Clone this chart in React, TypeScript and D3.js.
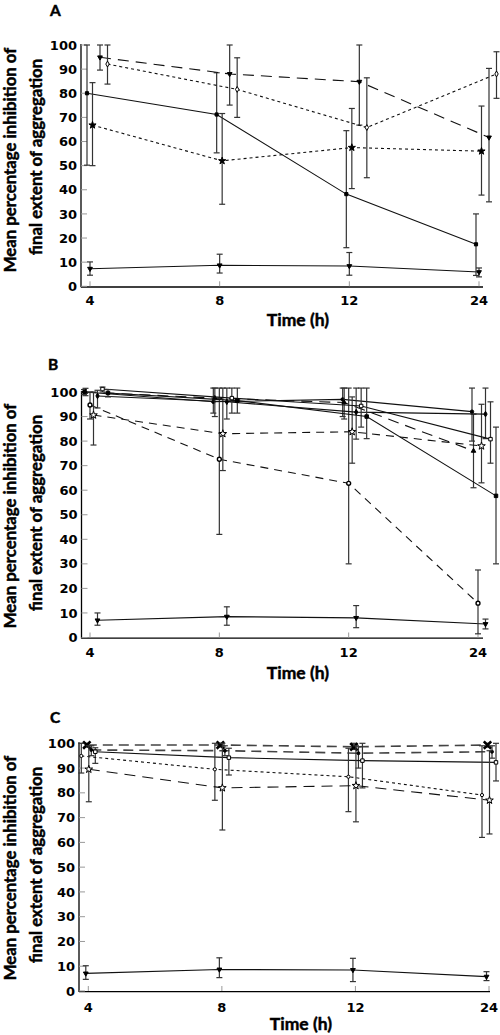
import React from 'react';
import * as d3 from 'd3';

// ---------- data ----------
const timeLabels = ['4', '8', '12', '24'];
const yTicks = [0, 10, 20, 30, 40, 50, 60, 70, 80, 90, 100];

// each entry: [mean, lower error, upper error]
// Panel A
const aSquare = [[80, 50.2, 100], [71.2, 55.3, 88.5], [38.2, 16, 64.5], [17.4, 4.5, 30]];
const aStar = [[66.8, 50, 84.4], [52, 34, 71.6], [57.5, 40.5, 73.7], [56, 37.8, 74.7]];
const aTriangle = [[94.9, 89.6, 100], [88, 75.1, 100], [84.8, 66.8, 100], [61.7, 35, 90.3]];
const aDiamond = [[92.1, 83.8, 100], [81.6, 70, 94.7], [65.8, 45, 86.4], [88, 77.9, 97.2]];
const aControl = [[7.3, 4.6, 10.1], [8.7, 5.5, 13.3], [8.4, 4.6, 14], [5.9, 3.9, 7.6]];

// Panel B
const bCircleSolid = [[100, 99, 101], [96, 91.4, 101.6], [97, 90, 101.6], [92, 80, 101.6]];
const bTriangleDashed = [[100, 98.5, 101.5], [97.5, 90, 101.6], [95.7, 89, 101.6], [76, 61, 91]];
const bCircleDashed = [[94.7, 89, 100], [72.6, 42, 101.6], [62.8, 30, 101.6], [14, 1.5, 27.5]];
const bStarDashed = [[90.6, 78.4, 100], [83, 68, 101.6], [83.8, 71, 98], [78, 63, 95]];
const bDiamondSolid = [[98.4, 93.5, 100.7], [96, 89, 101.6], [91.8, 80.8, 101.6], [91, 81, 101.6]];
const bOpenSquare = [[101.2, 100, 102], [97.5, 91.4, 101.6], [94.3, 85.7, 101.6], [80.8, 71, 96]];
const bFilledSquare = [[99.6, 98, 101], [96.5, 91.4, 101.6], [90, 81, 101.6], [57.7, 30, 85.7]];
const bControl = [[7, 5, 10], [8.5, 5, 12.5], [8, 4, 13], [5.5, 3.5, 7.5]];

// Panel C
const cCross = [[99.3, 98.5, 100], [99.3, 98.5, 100], [98.6, 97.5, 100], [99.3, 98.5, 100]];
const cDashedUpper = [[97.3, 95, 99], [97, 95, 99], [96, 90, 98.6], [96.6, 94, 99]];
const cSquare = [[96.6, 91.9, 98.2], [94.2, 87.2, 98], [93, 82, 100], [92.3, 84.8, 100]];
const cDotted = [[94.9, 88, 100], [89.5, 77, 100], [86.5, 72.4, 98], [79.1, 62, 99]];
const cStar = [[89.5, 76.4, 99], [82, 65, 100], [82.9, 68.3, 99], [77, 63.4, 97]];
const cControl = [[7.1, 4.7, 10.2], [8.7, 5.4, 13.4], [8.5, 3.8, 13.2], [5.8, 4.2, 7.8]];

// ---------- symbols ----------
const symX = {
  draw(ctx: any, size: number) {
    const r = Math.sqrt(size) / 2;
    ctx.moveTo(-r, -r);
    ctx.lineTo(r, r);
    ctx.moveTo(r, -r);
    ctx.lineTo(-r, r);
  },
};

type Series = {
  data: number[][];
  offset: number;
  dash: string | null;
  symbol: any;
  size: number;
  fill: string;
  rotate?: number;
  lineColor?: string;
  lineWidth?: number;
  markerStroke?: number;
};

const LABEL_FONT = 'Lato, "DejaVu Sans", sans-serif';
const TICK_FONT = '"DejaVu Sans", Lato, sans-serif';
const heavy = { stroke: '#000', strokeWidth: 0.45 };

type PanelCfg = {
  letter: string;
  letterPos: [number, number];
  axisX: number;
  xEnd: number;
  xRange: [number, number];
  yRange: [number, number];
  tickBaseline: number;
  titleBaseline: number;
  titleX: number;
  yLabelCenter: number;
  series: Series[];
};

function Panel({ cfg }: { cfg: PanelCfg }) {
  const x = d3.scalePoint<string>().domain(timeLabels).range(cfg.xRange);
  const y = d3.scaleLinear().domain([0, 100]).range(cfg.yRange);
  const y0 = y(0);
  const y100 = y(100);
  return (
    <g>
      <text x={cfg.letterPos[0]} y={cfg.letterPos[1]} fontFamily={LABEL_FONT} fontWeight="bold" fontSize={15.5} {...heavy}>
        {cfg.letter}
      </text>
      {/* y label */}
      <g transform={`translate(15.5, ${cfg.yLabelCenter}) rotate(-90)`}>
        <text textAnchor="middle" fontFamily={LABEL_FONT} fontWeight="bold" fontSize={16.8} {...heavy}>
          Mean percentage inhibition of
        </text>
      </g>
      <g transform={`translate(41.5, ${cfg.yLabelCenter - 3}) rotate(-90)`}>
        <text textAnchor="middle" fontFamily={LABEL_FONT} fontWeight="bold" fontSize={16.8} {...heavy}>
          final extent of aggregation
        </text>
      </g>
      {/* axes */}
      <line x1={cfg.axisX} x2={cfg.axisX} y1={y100 - 1} y2={y0 + 1} stroke="#000" strokeWidth={1.3} />
      <line x1={cfg.axisX} x2={cfg.xEnd} y1={y0 + 0.7} y2={y0 + 0.7} stroke="#000" strokeWidth={1.3} />
      {yTicks.map((t) => (
        <g key={t}>
          <line x1={cfg.axisX} x2={cfg.axisX + 6} y1={y(t)} y2={y(t)} stroke="#999" strokeWidth={1} />
          <text x={cfg.axisX - 4} y={y(t) + 4.6} textAnchor="end" fontFamily={TICK_FONT} fontWeight="bold" fontSize={13}>
            {t}
          </text>
        </g>
      ))}
      {timeLabels.map((t) => (
        <g key={t}>
          <line x1={x(t)} x2={x(t)} y1={y0} y2={y0 - 5} stroke="#999" strokeWidth={1} />
          <text x={x(t)} y={cfg.tickBaseline} textAnchor="middle" fontFamily={TICK_FONT} fontWeight="bold" fontSize={13}>
            {t}
          </text>
        </g>
      ))}
      <text x={cfg.titleX} y={cfg.titleBaseline} textAnchor="middle" fontFamily={LABEL_FONT} fontWeight="bold" fontSize={17.5} {...heavy}>
        Time (h)
      </text>
      {/* series */}
      {cfg.series.map((s, si) => {
        const px = (i: number) => (x(timeLabels[i]) as number) + s.offset;
        const line = d3
          .line<number[]>()
          .x((_, i) => px(i))
          .y((d) => y(d[0]));
        const sym = d3.symbol().type(s.symbol).size(s.size)();
        return (
          <g key={si}>
            <path
              d={line(s.data) || ''}
              fill="none"
              stroke={s.lineColor || '#111'}
              strokeWidth={s.lineWidth || 1.1}
              strokeDasharray={s.dash || undefined}
            />
            {s.data.map((d, i) => (
              <g key={i}>
                {d[1] !== d[2] && (
                  <g stroke="#333" strokeWidth={1.2}>
                    <line x1={px(i)} x2={px(i)} y1={y(d[1])} y2={y(d[2])} />
                    <line x1={px(i) - 3} x2={px(i) + 3} y1={y(d[1])} y2={y(d[1])} />
                    <line x1={px(i) - 3} x2={px(i) + 3} y1={y(d[2])} y2={y(d[2])} />
                  </g>
                )}
                <path
                  d={sym || ''}
                  transform={`translate(${px(i)}, ${y(d[0])}) rotate(${s.rotate || 0})`}
                  fill={s.fill}
                  stroke="#000"
                  strokeWidth={s.markerStroke || 1}
                />
              </g>
            ))}
          </g>
        );
      })}
    </g>
  );
}

const DOT = '3,3';
const LONG = '11,7';
const MED = '8,6';

const panels: PanelCfg[] = [
  {
    letter: 'A',
    letterPos: [50, 16],
    axisX: 81,
    xEnd: 483,
    xRange: [90, 479],
    yRange: [286.3, 45],
    tickBaseline: 305,
    titleBaseline: 326,
    titleX: 298,
    yLabelCenter: 160,
    series: [
      { data: aControl, offset: 0, dash: null, symbol: d3.symbolTriangle, size: 10, fill: '#000', rotate: 180 },
      { data: aSquare, offset: -3, dash: null, symbol: d3.symbolSquare, size: 10, fill: '#000' },
      { data: aStar, offset: 2.5, dash: DOT, symbol: d3.symbolStar, size: 16, fill: '#000' },
      { data: aTriangle, offset: 10, dash: LONG, symbol: d3.symbolTriangle, size: 10, fill: '#000', rotate: 180 },
      { data: aDiamond, offset: 17.5, dash: DOT, symbol: d3.symbolDiamond, size: 10, fill: '#fff' },
    ],
  },
  {
    letter: 'B',
    letterPos: [48, 370],
    axisX: 81.5,
    xEnd: 483,
    xRange: [90, 478],
    yRange: [637.5, 392],
    tickBaseline: 657,
    titleBaseline: 679,
    titleX: 298,
    yLabelCenter: 516,
    series: [
      { data: bControl, offset: 7.5, dash: null, symbol: d3.symbolTriangle, size: 10, fill: '#000', rotate: 180 },
      { data: bCircleSolid, offset: -6, dash: null, symbol: d3.symbolCircle, size: 9, fill: '#000' },
      { data: bTriangleDashed, offset: -4.5, dash: LONG, symbol: d3.symbolTriangle, size: 9, fill: '#000' },
      { data: bCircleDashed, offset: 0, dash: MED, symbol: d3.symbolCircle, size: 12, fill: '#fff', markerStroke: 1.4 },
      { data: bStarDashed, offset: 3.5, dash: MED, symbol: d3.symbolStar, size: 18, fill: '#fff' },
      { data: bDiamondSolid, offset: 7.5, dash: null, symbol: d3.symbolDiamond, size: 9, fill: '#000' },
      { data: bOpenSquare, offset: 12.5, dash: null, symbol: d3.symbolSquare, size: 12, fill: '#fff' },
      { data: bFilledSquare, offset: 18, dash: null, symbol: d3.symbolSquare, size: 12, fill: '#000' },
    ],
  },
  {
    letter: 'C',
    letterPos: [50, 723],
    axisX: 79,
    xEnd: 490,
    xRange: [88.3, 489],
    yRange: [991, 743.3],
    tickBaseline: 1011.5,
    titleBaseline: 1030,
    titleX: 301,
    yLabelCenter: 868,
    series: [
      { data: cControl, offset: -2.5, dash: null, symbol: d3.symbolTriangle, size: 10, fill: '#000', rotate: 180 },
      { data: cCross, offset: -1.5, dash: '10,6', symbol: symX, size: 55, fill: 'none', lineColor: '#444', lineWidth: 1.6, markerStroke: 2.6 },
      { data: cDashedUpper, offset: 3, dash: '10,6', symbol: d3.symbolCircle, size: 7, fill: '#000', lineColor: '#444', lineWidth: 1.6 },
      { data: cSquare, offset: 7, dash: null, symbol: d3.symbolSquare, size: 12, fill: '#fff' },
      { data: cDotted, offset: -7, dash: DOT, symbol: d3.symbolCircle, size: 8, fill: '#fff' },
      { data: cStar, offset: 0.5, dash: LONG, symbol: d3.symbolStar, size: 18, fill: '#fff' },
    ],
  },
];

export default function App() {
  return (
    <svg
      width={500}
      height={1035}
      viewBox="0 0 500 1035"
      style={{ position: 'absolute', left: 0, top: 0, background: '#fff' }}
    >
      <rect x={0} y={0} width={500} height={1035} fill="#fff" />
      {panels.map((p) => (
        <Panel key={p.letter} cfg={p} />
      ))}
    </svg>
  );
}
